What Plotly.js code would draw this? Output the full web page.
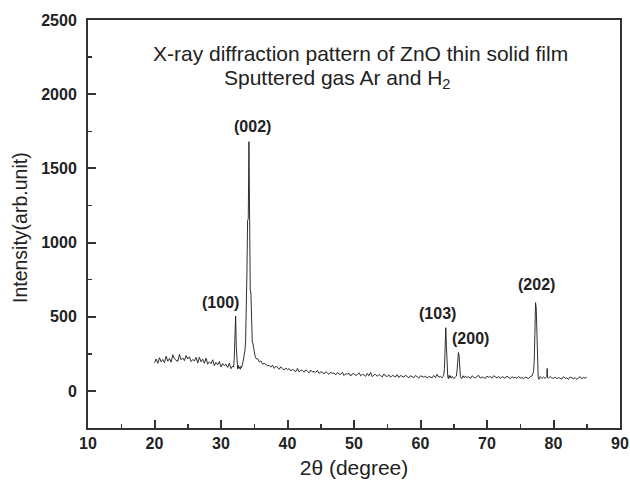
<!DOCTYPE html>
<html>
<head>
<meta charset="utf-8">
<script src="https://cdn.plot.ly/plotly-3.0.1.min.js"></script>
<style>html,body{margin:0;padding:0;background:#fff;}#chart{width:630px;height:484px;}</style>
</head>
<body>
<div id="chart"></div>
<script>
// 2-theta positions (degrees)
var twoTheta = [
20.00,20.25,20.50,20.75,21.00,21.25,21.50,21.75,22.00,22.25,22.50,22.75,23.00,23.25,23.50,23.75,
24.00,24.25,24.50,24.75,25.00,25.25,25.50,25.75,26.00,26.25,26.50,26.75,27.00,27.25,27.50,27.75,
28.00,28.25,28.50,28.75,29.00,29.25,29.50,29.75,30.00,30.25,30.50,30.75,31.00,31.25,31.50,31.75,
31.9,32.0,32.1,32.2,32.3,32.4,32.5,32.6,32.7,32.8,32.9,33.0,33.1,33.2,33.3,33.4,33.5,
33.6,33.7,33.8,33.9,34.0,34.1,34.2,34.3,34.4,34.5,34.6,34.7,34.8,34.9,35.0,35.1,35.2,35.3,
35.50,35.75,36.00,36.25,36.50,36.75,37.00,37.25,37.50,37.75,38.00,38.25,38.50,38.75,39.00,39.25,39.50,39.75,
40.00,40.25,40.50,40.75,41.00,41.25,41.50,41.75,42.00,42.25,42.50,42.75,43.00,43.25,43.50,43.75,
44.00,44.25,44.50,44.75,45.00,45.25,45.50,45.75,46.00,46.25,46.50,46.75,47.00,47.25,47.50,47.75,
48.00,48.25,48.50,48.75,49.00,49.25,49.50,49.75,50.00,50.25,50.50,50.75,51.00,51.25,51.50,51.75,
52.00,52.25,52.50,52.75,53.00,53.25,53.50,53.75,54.00,54.25,54.50,54.75,55.00,55.25,55.50,55.75,
56.00,56.25,56.50,56.75,57.00,57.25,57.50,57.75,58.00,58.25,58.50,58.75,59.00,59.25,59.50,59.75,
60.00,60.25,60.50,60.75,61.00,61.25,61.50,61.75,62.00,62.25,62.50,62.75,63.00,63.25,
63.4,63.5,63.6,63.7,63.8,63.9,64.0,64.1,64.2,64.3,64.4,64.5,64.6,64.8,65.0,65.2,65.4,
65.5,65.6,65.7,65.8,65.9,66.0,66.2,66.4,66.6,
66.75,67.00,67.25,67.50,67.75,68.00,68.25,68.50,68.75,69.00,69.25,69.50,69.75,70.00,70.25,70.50,
70.75,71.00,71.25,71.50,71.75,72.00,72.25,72.50,72.75,73.00,73.25,73.50,73.75,74.00,74.25,74.50,
74.75,75.00,75.25,75.50,75.75,76.00,76.25,76.50,76.75,77.00,
77.1,77.2,77.3,77.4,77.5,77.6,77.7,77.8,78.00,78.25,78.50,78.75,79.00,79.05,79.10,79.25,
79.50,79.75,80.00,80.25,80.50,80.75,81.00,81.25,81.50,81.75,82.00,82.25,82.50,82.75,83.00,83.25,
83.50,83.75,84.00,84.25,84.50,84.75,85.00
];
// Intensity (arb. unit)
var intensity = [
190,215,186,224,196,212,190,234,200,218,194,244,216,206,198,246,
210,222,204,238,215,230,198,212,202,226,188,228,196,214,186,220,
180,196,184,210,170,192,176,198,162,184,170,180,158,186,150,168,
160,230,420,505,300,160,148,172,152,162,146,166,158,175,190,215,250,
270,340,520,800,1150,1160,1680,1100,680,660,420,330,320,280,250,240,225,215,
218,196,202,180,186,176,170,172,160,174,152,166,160,146,162,150,141,154,
143,150,134,146,140,130,152,128,140,138,126,142,133,122,140,128,
130,124,138,118,128,126,114,130,120,112,126,118,121,108,124,114,
112,126,104,116,112,120,100,114,118,104,110,122,102,112,108,98,
118,102,124,96,108,112,98,110,104,94,114,100,98,108,92,104,
100,94,110,90,104,98,92,106,96,88,102,98,90,104,94,86,
102,96,92,100,86,98,94,88,104,90,112,92,98,88,
98,110,150,320,426,300,130,95,82,105,90,102,86,97,83,94,100,
140,210,259,240,150,95,83,102,88,
100,90,96,84,102,92,88,98,104,86,94,90,84,100,92,96,
86,102,94,88,98,84,96,92,86,100,90,82,96,88,92,84,
98,86,90,82,94,88,84,96,100,130,
200,380,595,560,320,150,90,78,97,83,94,84,98,151,90,86,
97,88,84,94,82,90,86,80,96,84,88,78,94,86,82,90,
78,88,96,82,90,86,92
];
// Peak labels
var peakLabels = ["(100)","(002)","(103)","(200)","(202)"];
var peakLabelX = [29.85, 34.7, 62.5, 67.5, 77.5];
var peakLabelY = [595, 1785, 525, 355, 715];

var xTickVals = [10,20,30,40,50,60,70,80,90];
var yTickVals = [0,500,1000,1500,2000,2500];

var fontFam = "Liberation Sans, Arial, Helvetica, sans-serif";

var trace = {
  x: twoTheta, y: intensity, type: 'scatter', mode: 'lines',
  line: {color: '#1a1a1a', width: 0.9},
  hoverinfo: 'skip'
};

var annotations = [];
for (var i = 0; i < peakLabels.length; i++) {
  annotations.push({
    x: peakLabelX[i], y: peakLabelY[i], xref: 'x', yref: 'y',
    xanchor: 'center', yanchor: 'middle',
    text: peakLabels[i], showarrow: false,
    font: {family: fontFam, size: 16, weight: 'bold', color: '#222'}
  });
}
annotations.push({
  x: (360 - 88) / 532, y: (428 - 53) / 408, xref: 'paper', yref: 'paper', showarrow: false,
  xanchor: 'center', yanchor: 'middle',
  text: 'X-ray diffraction pattern of ZnO thin solid film',
  font: {family: fontFam, size: 21, color: '#222'}
});
annotations.push({
  x: (337 - 88) / 532, y: (428 - 79) / 408, xref: 'paper', yref: 'paper', showarrow: false,
  xanchor: 'center', yanchor: 'middle',
  text: 'Sputtered gas Ar and H<sub>2</sub>',
  font: {family: fontFam, size: 21, color: '#222'}
});
annotations.push({
  x: (20 - 88) / 532, y: (428 - 228) / 408, xref: 'paper', yref: 'paper', showarrow: false,
  xanchor: 'center', yanchor: 'middle', textangle: -90,
  text: 'Intensity(arb.unit)',
  font: {family: fontFam, size: 19.5, color: '#222'}
});

var layout = {
  width: 630, height: 484,
  margin: {l: 88, r: 10, t: 20, b: 56, autoexpand: false},
  paper_bgcolor: '#fff', plot_bgcolor: '#fff',
  showlegend: false,
  font: {family: fontFam, color: '#222'},
  xaxis: {
    range: [10, 90], tickvals: xTickVals, ticktext: xTickVals.map(String),
    ticks: 'inside', ticklen: 8, tickwidth: 2, tickcolor: '#333',
    minor: {dtick: 5, tick0: 5, ticks: 'inside', ticklen: 4, tickwidth: 1.5, tickcolor: '#333', showgrid: false},
    showline: true, linewidth: 2, linecolor: '#333', mirror: true,
    showgrid: false, zeroline: false,
    tickfont: {family: fontFam, size: 16, weight: 'bold', color: '#222'},
    title: {text: '2θ (degree)', font: {family: fontFam, size: 21, color: '#222'}, standoff: 9}
  },
  yaxis: {
    range: [-250, 2500], tickvals: yTickVals, ticktext: yTickVals.map(String),
    ticks: 'inside', ticklen: 8, tickwidth: 2, tickcolor: '#333',
    minor: {dtick: 250, tick0: 0, ticks: 'inside', ticklen: 4, tickwidth: 1.5, tickcolor: '#333', showgrid: false},
    showline: true, linewidth: 2, linecolor: '#333', mirror: true,
    showgrid: false, zeroline: false,
    ticklabelstandoff: 6,
    tickfont: {family: fontFam, size: 16, weight: 'bold', color: '#222'}
  },
  annotations: annotations
};

Plotly.newPlot('chart', [trace], layout, {staticPlot: true, displayModeBar: false});
</script>
</body>
</html>
